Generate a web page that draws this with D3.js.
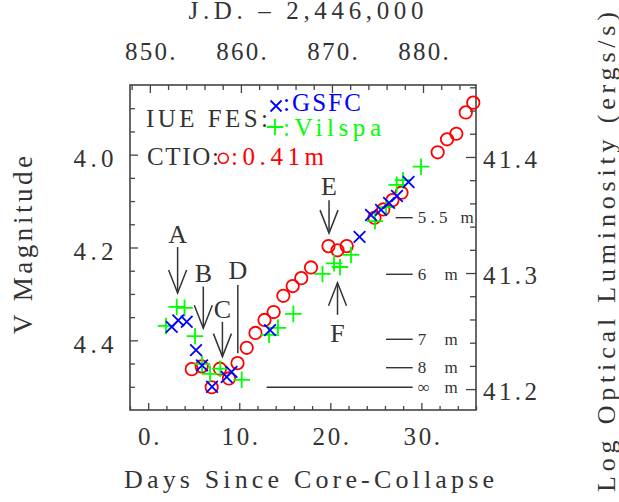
<!DOCTYPE html>
<html><head><meta charset="utf-8">
<script src="https://cdn.jsdelivr.net/npm/d3@7"></script>
<style>
body{margin:0;background:#fff}
svg{display:block}
text{font-family:"Liberation Serif","Times New Roman",serif;fill:#333}
</style>
</head><body>
<svg id="c" width="619" height="502"></svg>
<script>
// ---------- data ----------
const ctioDay = [4.78, 5.87, 6.97, 7.88, 8.87, 9.81, 10.82, 11.78, 12.77, 13.78, 14.84, 15.87, 16.81, 17.88, 19.80, 20.79, 21.80, 24.85, 25.82, 26.83, 27.82, 31.79, 32.82, 33.84, 34.88, 35.70];
const ctioV   = [4.462, 4.456, 4.501, 4.461, 4.482, 4.449, 4.416, 4.384, 4.356, 4.339, 4.304, 4.283, 4.266, 4.243, 4.197, 4.206, 4.197, 4.136, 4.118, 4.098, 4.082, 3.995, 3.967, 3.955, 3.909, 3.888];

const vilspaDay = [1.95, 3.13, 3.99, 5.14, 5.91, 6.79, 7.92, 10.27, 13.27, 14.25, 15.94, 19.14, 20.41, 21.06, 22.27, 24.91, 26.12, 27.29, 27.98, 29.96];
const vilspaV   = [4.369, 4.328, 4.330, 4.391, 4.451, 4.472, 4.461, 4.485, 4.388, 4.373, 4.343, 4.257, 4.234, 4.242, 4.216, 4.143, 4.113, 4.065, 4.055, 4.026];

const gsfcDay = [2.58, 3.30, 4.23, 5.25, 5.91, 7.01, 8.62, 9.15, 13.38, 23.21, 24.47, 25.57, 26.45, 27.32, 28.59];
const gsfcV   = [4.371, 4.357, 4.360, 4.421, 4.454, 4.500, 4.479, 4.468, 4.378, 4.177, 4.130, 4.119, 4.104, 4.089, 4.059];

// annotations (arrows A-F)
const arrowLabels = ["A", "B", "C", "D", "E", "F"];
const arrowDay    = [3.23, 6.05, 8.15, 9.84, 19.86, 20.79];
const arrowLabelV = [4.190, 4.274, 4.352, 4.268, 4.087, 4.403];
const arrowTailV  = [4.199, 4.284, 4.360, 4.281, 4.098, 4.345];
const arrowTipV   = [4.298, 4.374, 4.435, 4.428, 4.169, 4.276];
const arrowHasHead = [true, true, true, false, true, true];

// size level markers on the right
const sizeLabels   = ["5.5 m", "6 m", "7 m", "8 m", "\u221E m"];
const sizeV        = [4.1358, 4.2577, 4.3977, 4.4589, 4.5011];
const sizeStartDay = [27.18, 26.12, 26.12, 26.12, 13.01];
const sizeEndDay   = 29.05;

// axes
const dayMajor = [0, 10, 20, 30];
const jdMajor  = [850, 860, 870, 880];
const vMajor   = [4.0, 4.2, 4.4];
const lumMajor = [41.2, 41.3, 41.4];
const JD0 = 849.82;      // J.D. - 2,446,000 at core collapse
const LUM0 = 43.002;     // log L = LUM0 - 0.4 V

// ---------- layout ----------
const L = 130, R = 476, T = 85, B = 410;
const svg = d3.select("#c");
const ink = "#333", frame = "#444";

const x = d3.scaleLinear().domain([-2, 36]).range([L, R]);
const xJD = d3.scaleLinear().domain([-2 + JD0, 36 + JD0]).range([L, R]);
const y = d3.scaleLinear().domain([3.85, 4.55]).range([T, B]);
const yL = d3.scaleLinear().domain([LUM0 - 0.4 * 3.85, LUM0 - 0.4 * 4.55]).range([T, B]);

const fit = (sel, w) => sel.attr("textLength", w).attr("lengthAdjust", "spacing");
const tickW = s => 15 * (s.length - 1) + 6.5;

function styleAxis(g) {
  g.select(".domain").remove();
  g.selectAll(".tick line").attr("stroke", frame).attr("stroke-width", 1.3);
  g.selectAll("text").attr("fill", ink).attr("font-family", "Liberation Serif, serif");
}

// bottom
const dayMinor = d3.range(-2, 37, 2).filter(d => !dayMajor.includes(d));
svg.append("g").attr("transform", `translate(0,${B})`)
  .call(d3.axisBottom(x).tickValues(dayMinor).tickSize(-4).tickFormat(""))
  .call(styleAxis);
svg.append("g").attr("transform", `translate(0,${B})`)
  .call(d3.axisBottom(x).tickValues(dayMajor).tickSize(-7).tickFormat(d => d + "."))
  .call(styleAxis)
  .call(g => g.selectAll("text").attr("y", 35).attr("dy", 0).attr("font-size", 25)
    .each(function () { fit(d3.select(this), tickW(this.textContent)); }));

// top
const jdMinor = d3.range(848, 886, 2).filter(d => !jdMajor.includes(d) && xJD(d) > L + 1 && xJD(d) < R - 1);
svg.append("g").attr("transform", `translate(0,${T})`)
  .call(d3.axisTop(xJD).tickValues(jdMinor).tickSize(-5).tickFormat(""))
  .call(styleAxis);
svg.append("g").attr("transform", `translate(0,${T})`)
  .call(d3.axisTop(xJD).tickValues(jdMajor).tickSize(-8).tickFormat(d => d + "."))
  .call(styleAxis)
  .call(g => g.selectAll("text").attr("y", -25).attr("dy", 0).attr("font-size", 25)
    .each(function () { fit(d3.select(this), tickW(this.textContent) - 1); }));

// left
const vMinor = d3.range(3.9, 4.52, 0.05).map(d => +d.toFixed(2)).filter(d => !vMajor.some(m => Math.abs(m - d) < 1e-6));
svg.append("g").attr("transform", `translate(${L},0)`)
  .call(d3.axisLeft(y).tickValues(vMinor).tickSize(-5).tickFormat(""))
  .call(styleAxis);
svg.append("g").attr("transform", `translate(${L},0)`)
  .call(d3.axisLeft(y).tickValues(vMajor).tickSize(-8).tickFormat(d3.format(".1f")))
  .call(styleAxis)
  .call(g => g.selectAll("text").attr("x", -16.5).attr("dy", 0).attr("y", 12).attr("font-size", 25)
    .each(function () { fit(d3.select(this), 40); }));

// right
const lumMinor = d3.range(41.2, 41.47, 0.02).map(d => +d.toFixed(2)).filter(d => !lumMajor.some(m => Math.abs(m - d) < 1e-6));
svg.append("g").attr("transform", `translate(${R},0)`)
  .call(d3.axisRight(yL).tickValues(lumMinor).tickSize(-6).tickFormat(""))
  .call(styleAxis);
svg.append("g").attr("transform", `translate(${R},0)`)
  .call(d3.axisRight(yL).tickValues(lumMajor).tickSize(-10).tickFormat(d3.format(".1f")))
  .call(styleAxis)
  .call(g => g.selectAll("text").attr("x", 7).attr("dy", 0).attr("y", 10.5).attr("font-size", 25)
    .each(function () { fit(d3.select(this), 54); }));

// frame
svg.append("rect").attr("x", L).attr("y", T).attr("width", R - L).attr("height", B - T)
  .attr("fill", "none").attr("stroke", frame).attr("stroke-width", 1.6);

// titles
fit(svg.append("text").attr("x", 306).attr("y", 19).attr("text-anchor", "middle").attr("font-size", 25)
  .text("J.D. \u2013 2,446,000"), 235);
fit(svg.append("text").attr("x", 309).attr("y", 488).attr("text-anchor", "middle").attr("font-size", 26)
  .text("Days Since Core-Collapse"), 370);
fit(svg.append("text").attr("transform", "translate(31.5,245) rotate(-90)").attr("text-anchor", "middle").attr("font-size", 27)
  .text("V Magnitude"), 178);
fit(svg.append("text").attr("transform", "translate(615,252) rotate(-90)").attr("text-anchor", "middle").attr("font-size", 26)
  .text("Log Optical Luminosity (ergs/s)"), 480);

// size level lines
sizeLabels.forEach((lab, i) => {
  svg.append("line").attr("x1", x(sizeStartDay[i])).attr("x2", x(sizeEndDay))
    .attr("y1", y(sizeV[i])).attr("y2", y(sizeV[i])).attr("stroke", ink).attr("stroke-width", 1.4);
  fit(svg.append("text").attr("x", x(sizeEndDay) + 5).attr("y", y(sizeV[i]) + 5.5).attr("font-size", 17).text(lab),
    lab.length > 3 ? 56 : 40);
});

// arrows
arrowLabels.forEach((lab, i) => {
  const ax = x(arrowDay[i]);
  const yTail = y(arrowTailV[i]), yTip = y(arrowTipV[i]);
  svg.append("text").attr("x", ax).attr("y", y(arrowLabelV[i])).attr("text-anchor", "middle")
    .attr("font-size", 26).text(lab);
  svg.append("line").attr("x1", ax).attr("x2", ax).attr("y1", yTail).attr("y2", yTip)
    .attr("stroke", ink).attr("stroke-width", 1.5);
  if (arrowHasHead[i]) {
    const dir = yTip > yTail ? -1 : 1;
    svg.append("path")
      .attr("d", `M${ax - 9},${yTip + dir * 23}L${ax},${yTip}L${ax + 9},${yTip + dir * 23}`)
      .attr("fill", "none").attr("stroke", ink).attr("stroke-width", 1.5);
  }
});

// markers
const plusPath = s => `M${-s},0H${s}M0,${-s}V${s}`;
const xPath = s => `M${-s},${-s}L${s},${s}M${-s},${s}L${s},${-s}`;

svg.append("g").selectAll("circle").data(d3.zip(ctioDay, ctioV)).join("circle")
  .attr("cx", d => x(d[0])).attr("cy", d => y(d[1])).attr("r", 6.2)
  .attr("fill", "none").attr("stroke", "#ff0000").attr("stroke-width", 1.8);
svg.append("g").selectAll("path").data(d3.zip(vilspaDay, vilspaV)).join("path")
  .attr("transform", d => `translate(${x(d[0])},${y(d[1])})`).attr("d", plusPath(8.3))
  .attr("fill", "none").attr("stroke", "#00ff00").attr("stroke-width", 1.8);
svg.append("g").selectAll("path").data(d3.zip(gsfcDay, gsfcV)).join("path")
  .attr("transform", d => `translate(${x(d[0])},${y(d[1])})`).attr("d", xPath(5.8))
  .attr("fill", "none").attr("stroke", "#0000ff").attr("stroke-width", 1.8);

// legend
fit(svg.append("text").attr("x", 146).attr("y", 127).attr("font-size", 25).text("IUE FES:"), 122);
svg.append("path").attr("transform", "translate(276,106)").attr("d", xPath(5.5))
  .attr("stroke", "#0000ff").attr("stroke-width", 1.8);
fit(svg.append("text").attr("x", 283).attr("y", 111).attr("font-size", 25).style("fill", "#0000ff").text(":GSFC"), 78);
svg.append("path").attr("transform", "translate(275,127)").attr("d", plusPath(8.3))
  .attr("stroke", "#00ff00").attr("stroke-width", 1.8);
fit(svg.append("text").attr("x", 283).attr("y", 136).attr("font-size", 25).style("fill", "#00ff00").text(":Vilspa"), 98);
fit(svg.append("text").attr("x", 147).attr("y", 165).attr("font-size", 25).text("CTIO:"), 72);
svg.append("circle").attr("cx", 223.3).attr("cy", 158.3).attr("r", 5)
  .attr("fill", "none").attr("stroke", "#ff0000").attr("stroke-width", 1.6);
fit(svg.append("text").attr("x", 231).attr("y", 165).attr("font-size", 25).style("fill", "#ff0000").text(":0.41m"), 93);
</script>
</body></html>
